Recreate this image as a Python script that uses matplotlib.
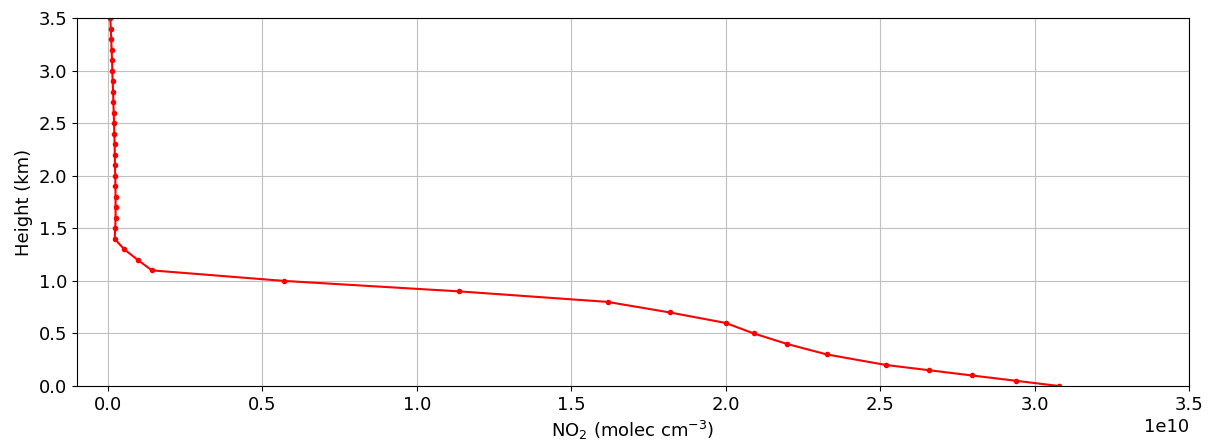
import matplotlib
matplotlib.use("Agg")
import matplotlib.pyplot as plt
import numpy as np

height_km = [0.0, 0.05, 0.1, 0.15, 0.2, 0.3, 0.4, 0.5, 0.6, 0.7, 0.8, 0.9, 1.0,
             1.1, 1.2, 1.3, 1.4, 1.5, 1.6, 1.7, 1.8, 1.9, 2.0, 2.1, 2.2, 2.3,
             2.4, 2.5, 2.6, 2.7, 2.8, 2.9, 3.0, 3.1, 3.2, 3.3, 3.4, 3.5]
no2_1e10 = [3.079, 2.939, 2.798, 2.659, 2.519, 2.328, 2.199, 2.091, 2.000, 1.819,
            1.618, 1.138, 0.569, 0.1425, 0.0966, 0.0533, 0.022, 0.024, 0.025,
            0.025, 0.025, 0.0245, 0.024, 0.023, 0.0225, 0.022, 0.021, 0.020,
            0.019, 0.018, 0.017, 0.0155, 0.0145, 0.0135, 0.012, 0.011, 0.0095, 0.008]
no2 = np.array(no2_1e10) * 1e10

fig = plt.figure(figsize=(12.1, 4.41), dpi=100)
ax = fig.add_axes([0.0636, 0.1247, 0.9190, 0.8343])
ax.plot(no2, height_km, color='red', marker='o', markersize=3, linewidth=1.5)
ax.set_xlim(-0.1e10, 3.5e10)
ax.set_ylim(0, 3.5)
ax.set_xticks(np.arange(0, 3.51, 0.5) * 1e10)
ax.set_yticks(np.arange(0, 3.51, 0.5))
ax.grid(True, color='#c0c0c0')
ax.tick_params(labelsize=13)
ax.xaxis.get_offset_text().set_fontsize(13)
ax.set_xlabel(r'NO$_2$ (molec cm$^{-3}$)', fontsize=13)
ax.set_ylabel('Height (km)', fontsize=13)
fig.savefig('out.png', dpi=100)
